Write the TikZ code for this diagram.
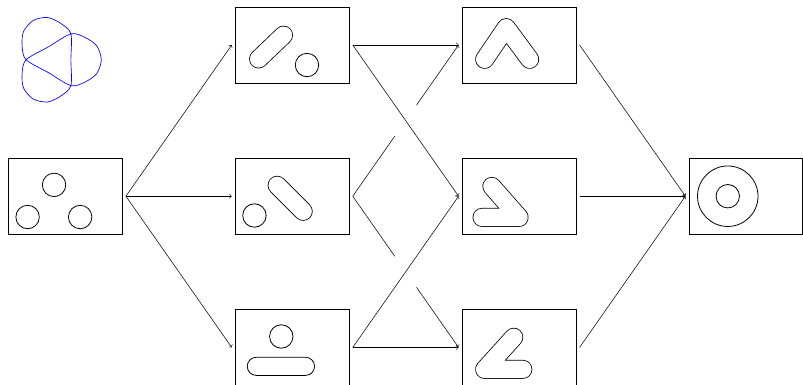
\documentclass[tikz,border=0pt]{standalone}
\usetikzlibrary{calc}
\begin{document}
\begin{tikzpicture}[
  box/.style={draw, minimum width=3cm, minimum height=2cm, inner sep=0pt, outer sep=0.1cm},
  blob/.style={line width=0.6pt, double=white, double distance=0.48cm-0.6pt, line cap=round, line join=round},
  ring/.style={line width=0.6pt},
  conn/.style={->},
  knotline/.style={blue, line width=0.5pt}
]
\useasboundingbox (-1.73,-4.99) rectangle (19.51,5.19);

% boxes
\node[box] (b0) at (0,0) {};
\node[box] (t2) at (6,4) {};
\node[box] (m2) at (6,0) {};
\node[box] (u2) at (6,-4) {};
\node[box] (t3) at (12,4) {};
\node[box] (m3) at (12,0) {};
\node[box] (u3) at (12,-4) {};
\node[box] (f) at (18,0) {};

% trefoil
\draw[knotline, shift={(-0.25,3.61)}] plot[smooth cycle] coordinates {
 (180:0.79) (120:0.395) (60:0.79) (37.4:0.97) (18.6:1.14) (0:1.2) (-18.6:1.14) (-37.4:0.97)
 (300:0.79) (240:0.395) (180:0.79) (157.4:0.97) (138.6:1.14) (120:1.2) (101.4:1.14) (82.6:0.97)
 (60:0.79) (0:0.395) (300:0.79) (277.4:0.97) (258.6:1.14) (240:1.2) (221.4:1.14) (202.6:0.97)};

% shapes in boxes
\begin{scope}[shift={(b0)}]
  \draw[ring] (-0.30,0.30) circle (0.31);
  \draw[ring] (-1.0,-0.55) circle (0.31);
  \draw[ring] (0.39,-0.55) circle (0.31);
\end{scope}
\begin{scope}[shift={(t2)}]
  \draw[blob] (-0.89,-0.37) -- (-0.23,0.26);
  \draw[ring] (0.39,-0.53) circle (0.31);
\end{scope}
\begin{scope}[shift={(m2)}]
  \draw[blob] (-0.40,0.29) -- (0.29,-0.40);
  \draw[ring] (-1.0,-0.51) circle (0.31);
\end{scope}
\begin{scope}[shift={(u2)}]
  \draw[ring] (-0.29,0.29) circle (0.31);
  \draw[ring, rounded corners=0.24cm] (-1.19,-0.74) rectangle (0.59,-0.26);
\end{scope}
\begin{scope}[shift={(t3)}]
  \draw[blob] (-0.91,-0.38) -- (-0.34,0.46) -- (0.28,-0.38);
\end{scope}
\begin{scope}[shift={(m3)}]
  \draw[blob] (-0.72,0.26) -- (0,-0.56) -- (-0.98,-0.56);
\end{scope}
\begin{scope}[shift={(u3)}]
  \draw[blob] (-0.14,0.27) -- (-0.91,-0.58) -- (0.10,-0.58);
\end{scope}
\begin{scope}[shift={(f)}]
  \draw[ring] (-0.48,0) circle (0.8);
  \draw[ring] (-0.48,0) circle (0.31);
\end{scope}

% connectors
\draw[conn] (b0.east) -- (t2.west);
\draw[conn] (b0.east) -- (m2.west);
\draw[conn] (b0.east) -- (u2.west);

\draw[conn] (t2.east) -- (t3.west);
\draw[conn] (t2.east) -- (m3.west);
\draw[conn] (u2.east) -- (m3.west);
\draw[conn] (u2.east) -- (u3.west);

\coordinate (x1) at ($(m2.east)!0.5!(t3.west)$);
\coordinate (x2) at ($(m2.east)!0.5!(u3.west)$);
\draw (m2.east) -- ($(x1)!0.5cm!(m2.east)$);
\draw[conn] ($(x1)!0.5cm!(t3.west)$) -- (t3.west);
\draw (m2.east) -- ($(x2)!0.5cm!(m2.east)$);
\draw[conn] ($(x2)!0.5cm!(u3.west)$) -- (u3.west);

\draw[conn] (t3.east) -- (f.west);
\draw[conn] (m3.east) -- (f.west);
\draw[conn] (u3.east) -- (f.west);
\end{tikzpicture}
\end{document}
